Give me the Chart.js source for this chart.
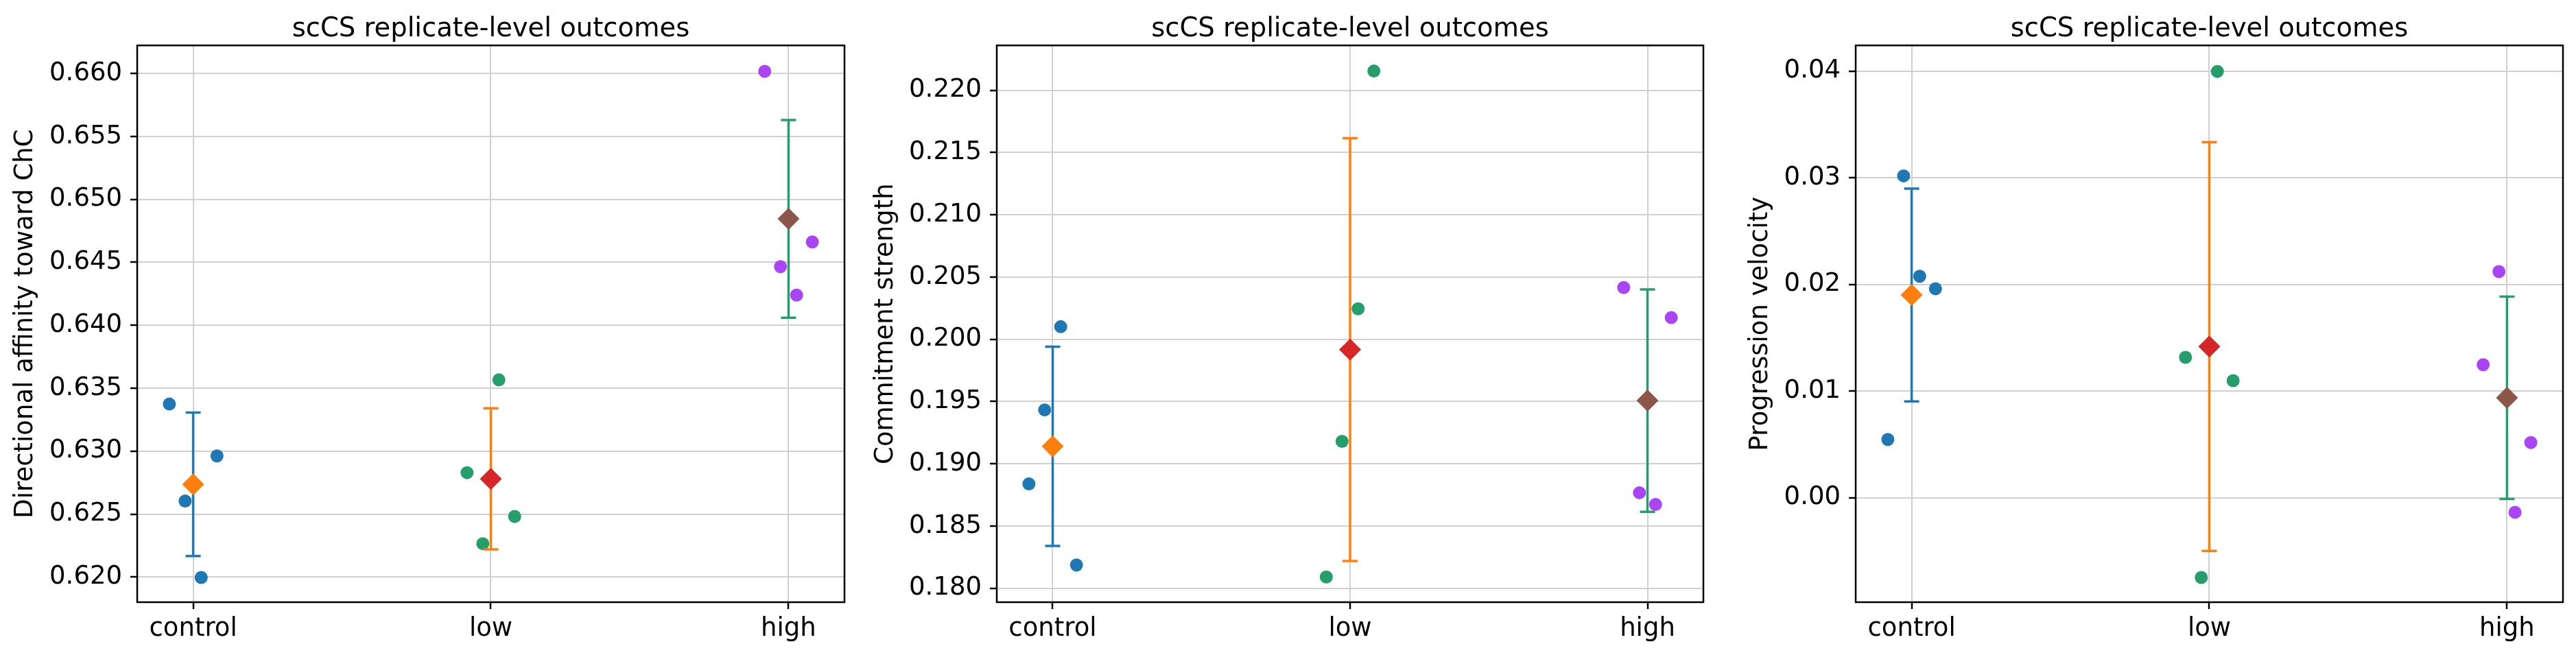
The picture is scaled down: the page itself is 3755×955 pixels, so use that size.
<!DOCTYPE html>
<html>
<head>
<meta charset="utf-8">
<title>scCS replicate-level outcomes</title>
<script src="https://cdn.jsdelivr.net/npm/chart.js@4.4.1/dist/chart.umd.min.js"></script>
<style>
  body { margin: 0; background: #fff; }
  .panel { position: absolute; top: 0; height: 955px; }
</style>
</head>
<body>
<div class="panel" style="left:0px;width:1251px"><canvas id="chart-affinity"></canvas></div>
<div class="panel" style="left:1251px;width:1252px"><canvas id="chart-commitment"></canvas></div>
<div class="panel" style="left:2503px;width:1252px"><canvas id="chart-velocity"></canvas></div>
<script>
const GROUPS = ['control', 'low', 'high'];
const JITTER = [-0.08, -0.027, 0.027, 0.08];

// directional affinity toward ChC
const affinityControl = [0.63374, 0.62604, 0.61996, 0.62962];
const affinityLow = [0.62829, 0.62265, 0.63566, 0.62481];
const affinityHigh = [0.66017, 0.64466, 0.64240, 0.64662];
const affinityMeans = [0.62736, 0.62780, 0.64845];
const affinitySd = [0.00570, 0.00560, 0.00785];
const affinityTicks = ['0.620', '0.625', '0.630', '0.635', '0.640', '0.645', '0.650', '0.655', '0.660'];

// commitment strength
const commitmentControl = [0.18839, 0.19433, 0.20101, 0.18188];
const commitmentLow = [0.18091, 0.19181, 0.20245, 0.22154];
const commitmentHigh = [0.20416, 0.18768, 0.18674, 0.20174];
const commitmentMeans = [0.19141, 0.19917, 0.19508];
const commitmentSd = [0.00800, 0.01698, 0.00893];
const commitmentTicks = ['0.180', '0.185', '0.190', '0.195', '0.200', '0.205', '0.210', '0.215', '0.220'];

// progression velocity
const velocityControl = [0.00545, 0.03017, 0.02076, 0.01959];
const velocityLow = [0.01316, -0.00748, 0.03996, 0.01097];
const velocityHigh = [0.01246, 0.02119, -0.00137, 0.00517];
const velocityMeans = [0.01900, 0.01417, 0.00936];
const velocitySd = [0.00997, 0.01916, 0.00948];
const velocityTicks = ['0.00', '0.01', '0.02', '0.03', '0.04'];

const POINT_COLORS = ['#1f77b4', '#269e6c', '#a945f5'];
const MEAN_COLORS = ['#ff7f0e', '#d62728', '#8c564b'];
const ERR_COLORS = ['#1f77b4', '#ff7f0e', '#269e6c'];
const FONT = 'DejaVu Sans';

const boxPlugin = {
    id: 'box',
    afterDraw(chart) {
        const { ctx, chartArea: a } = chart;
        ctx.save();
        ctx.strokeStyle = '#000';
        ctx.lineWidth = 2.5;
        ctx.strokeRect(a.left, a.top, a.right - a.left, a.bottom - a.top);
        ctx.restore();
    }
};

function buildDatasets(reps, means, sds) {
    const sets = [];
    reps.forEach((vals, g) => {
        sets.push({
            data: vals.map((v, k) => ({ x: g + JITTER[k], y: v })),
            backgroundColor: POINT_COLORS[g],
            pointRadius: 9.5,
            pointBorderWidth: 0,
            pointHoverRadius: 9.5,
            order: 3
        });
        sets.push({
            data: [{ x: g, y: means[g] - sds[g] }, { x: g, y: means[g] + sds[g] }],
            showLine: true,
            borderColor: ERR_COLORS[g],
            borderWidth: 3.5,
            pointStyle: 'line',
            pointRadius: 11,
            pointHoverRadius: 11,
            pointBorderColor: ERR_COLORS[g],
            pointBorderWidth: 3.5,
            order: 2
        });
        sets.push({
            data: [{ x: g, y: means[g] }],
            backgroundColor: MEAN_COLORS[g],
            borderColor: MEAN_COLORS[g],
            pointStyle: 'rectRot',
            pointRadius: 16,
            pointHoverRadius: 16,
            pointBorderWidth: 0,
            order: 1
        });
    });
    return sets;
}

function drawPanel(id, p) {
    const grid = { color: '#d0d0d0', lineWidth: 2, tickColor: '#000', tickWidth: 2.5, tickLength: 10 };
    new Chart(document.getElementById(id), {
        type: 'scatter',
        data: { datasets: buildDatasets(p.reps, p.means, p.sds) },
        options: {
            animation: false,
            responsive: true,
            maintainAspectRatio: false,
            events: [],
            layout: { padding: { left: 0, right: p.padRight, top: 0, bottom: 0 } },
            plugins: {
                legend: { display: false },
                tooltip: { enabled: false },
                title: {
                    display: true,
                    fullSize: false,
                    text: 'scCS replicate-level outcomes',
                    color: '#000',
                    font: { family: FONT, size: 38.5, weight: 'normal' },
                    padding: { top: 20, bottom: 0 }
                }
            },
            scales: {
                x: {
                    type: 'linear',
                    min: -0.188,
                    max: 2.188,
                    afterBuildTicks: s => { s.ticks = GROUPS.map((g, i) => ({ value: i })); },
                    afterFit: s => { s.height = 77; },
                    ticks: {
                        callback: v => GROUPS[v],
                        color: '#000',
                        font: { family: FONT, size: 37 },
                        padding: 7,
                        maxRotation: 0,
                        autoSkip: false
                    },
                    grid: grid,
                    border: { display: false }
                },
                y: {
                    min: p.range[0],
                    max: p.range[1],
                    afterBuildTicks: s => { s.ticks = p.ticks.map(t => ({ value: parseFloat(t) })); },
                    afterFit: s => { s.width = p.axisWidth; },
                    ticks: {
                        callback: v => p.ticks.find(t => Math.abs(parseFloat(t) - v) < 1e-9),
                        color: '#000',
                        font: { family: FONT, size: 37 },
                        padding: 12,
                        autoSkip: false
                    },
                    title: {
                        display: true,
                        text: p.label,
                        color: '#000',
                        font: { family: FONT, size: 37 },
                        padding: { top: p.titlePad, bottom: 0 }
                    },
                    grid: grid,
                    border: { display: false }
                }
            }
        },
        plugins: [boxPlugin]
    });
}

function init() {
    drawPanel('chart-affinity', {
        label: 'Directional affinity toward ChC',
        reps: [affinityControl, affinityLow, affinityHigh],
        means: affinityMeans, sds: affinitySd, ticks: affinityTicks,
        range: [0.61800, 0.66223], axisWidth: 200, padRight: 20, titlePad: 15
    });
    drawPanel('chart-commitment', {
        label: 'Commitment strength',
        reps: [commitmentControl, commitmentLow, commitmentHigh],
        means: commitmentMeans, sds: commitmentSd, ticks: commitmentTicks,
        range: [0.17889, 0.22360], axisWidth: 202, padRight: 20, titlePad: 18
    });
    drawPanel('chart-velocity', {
        label: 'Progression velocity',
        reps: [velocityControl, velocityLow, velocityHigh],
        means: velocityMeans, sds: velocitySd, ticks: velocityTicks,
        range: [-0.00980, 0.04240], axisWidth: 202, padRight: 19, titlePad: 41
    });
}

document.addEventListener('DOMContentLoaded', init);
</script>
</body>
</html>
